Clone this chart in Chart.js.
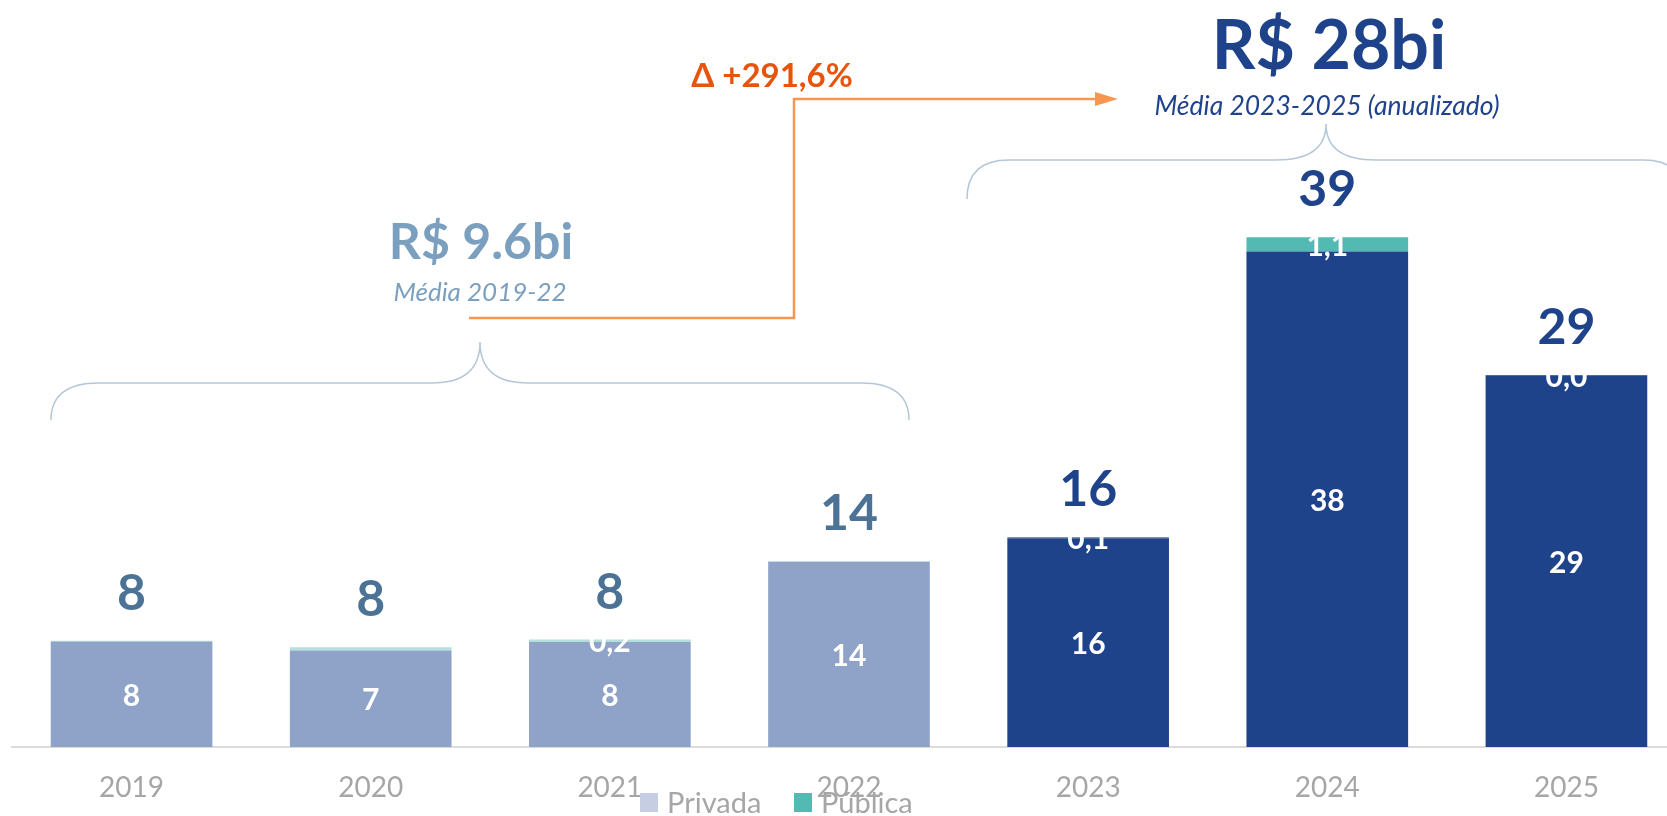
<!DOCTYPE html>
<html>
<head>
<meta charset="utf-8">
<script src="https://cdn.jsdelivr.net/npm/chart.js@4.4.1/dist/chart.umd.min.js"></script>
<style>
  html, body { margin: 0; padding: 0; background: #fff; overflow: hidden; }
  #wrap { position: absolute; left: 0; top: 0; width: 1700px; height: 816px; }
</style>
</head>
<body>
<div id="wrap"><canvas id="grafico" width="1700" height="816"></canvas></div>
<script>
// dados (R$ bi)
const anos = ['2019', '2020', '2021', '2022', '2023', '2024', '2025'];
const privada = [8.1, 7.4, 8.05, 14.2, 16.0, 38.0, 28.5];
const publica = [0.05, 0.25, 0.2, 0.05, 0.1, 1.1, 0.02];
const publicaRotulo = [false, false, true, false, true, true, true];
const totais = [8, 8, 8, 14, 16, 39, 29];

const corPrivada = ['#8fa2c7', '#8fa2c7', '#8fa2c7', '#8fa2c7', '#1f438b', '#1f438b', '#1f438b'];
const corPublica = ['#b3dfdc', '#b3dfdc', '#b3dfdc', '#b3dfdc', '#45b5ab', '#52bab2', '#52bab2'];
const corTotal = ['#4c7396', '#4c7396', '#4c7396', '#4c7396', '#1f438b', '#1f438b', '#1f438b'];
const corLegenda = ['#c5cee3', '#52bab2'];

const FONTE = 'Lato, "Open Sans", sans-serif';

// rótulos das barras e totais
const rotulos = {
    id: 'rotulos',
    afterDatasetsDraw(chart) {
        const ctx = chart.ctx;
        const mPriv = chart.getDatasetMeta(0);
        const mPub = chart.getDatasetMeta(1);
        ctx.save();
        ctx.textAlign = 'center';
        ctx.textBaseline = 'middle';
        ctx.fillStyle = '#fff';
        ctx.font = 'bold 30px ' + FONTE;
        mPriv.data.forEach((bar, i) => {
            const c = bar.getCenterPoint();
            ctx.fillText(String(Math.round(privada[i])), c.x, c.y + 2);
        });
        mPub.data.forEach((bar, i) => {
            if (!publicaRotulo[i]) return;
            const c = bar.getCenterPoint();
            ctx.fillText(publica[i].toFixed(1).replace('.', ','), c.x, c.y + 2);
        });
        ctx.font = 'bold 50px ' + FONTE;
        mPub.data.forEach((bar, i) => {
            ctx.fillStyle = corTotal[i];
            ctx.fillText(String(totais[i]), bar.x, bar.y - 47);
        });
        ctx.restore();
    }
};

function chave(ctx, x0, x1, yPonta, yLinha, yFim, rFim, rPonta) {
    const xm = (x0 + x1) / 2;
    ctx.beginPath();
    ctx.moveTo(x0, yFim);
    ctx.quadraticCurveTo(x0, yLinha, x0 + rFim, yLinha);
    ctx.lineTo(xm - rPonta, yLinha);
    ctx.quadraticCurveTo(xm, yLinha, xm, yPonta);
    ctx.quadraticCurveTo(xm, yLinha, xm + rPonta, yLinha);
    ctx.lineTo(x1 - rFim, yLinha);
    ctx.quadraticCurveTo(x1, yLinha, x1, yFim);
    ctx.stroke();
}

// chaves, médias, seta e legenda
const anotacoes = {
    id: 'anotacoes',
    afterDraw(chart) {
        const ctx = chart.ctx;
        ctx.save();
        ctx.strokeStyle = '#b4c7d9';
        ctx.lineWidth = 1.5;
        chave(ctx, 51, 909, 342, 383, 420, 48, 48);
        chave(ctx, 967, 1685, 124, 160, 199, 42, 50);

        ctx.textAlign = 'center';
        ctx.textBaseline = 'middle';
        ctx.fillStyle = '#7b9fbf';
        ctx.font = 'bold 50px ' + FONTE;
        ctx.fillText('R$ 9.6bi', 481, 243);
        ctx.font = 'italic 26px ' + FONTE;
        ctx.fillText('Média 2019-22', 480, 293);

        ctx.fillStyle = '#1f438b';
        ctx.font = 'bold 68px ' + FONTE;
        ctx.fillText('R$ 28bi', 1329, 47);
        ctx.font = 'italic 26.5px ' + FONTE;
        ctx.fillText('Média 2023-2025 (anualizado)', 1327, 106);

        // seta laranja
        ctx.strokeStyle = '#f8964f';
        ctx.fillStyle = '#f8964f';
        ctx.lineWidth = 2.5;
        ctx.beginPath();
        ctx.moveTo(469, 318);
        ctx.lineTo(794, 318);
        ctx.lineTo(794, 99);
        ctx.lineTo(1097, 99);
        ctx.stroke();
        ctx.beginPath();
        ctx.moveTo(1095, 92);
        ctx.lineTo(1118, 99);
        ctx.lineTo(1095, 106);
        ctx.closePath();
        ctx.fill();

        ctx.fillStyle = '#e8540e';
        ctx.font = 'bold 33px ' + FONTE;
        ctx.fillText('Δ +291,6%', 772, 76);

        // legenda
        ctx.textAlign = 'left';
        ctx.font = '29px ' + FONTE;
        let x = 640;
        chart.data.datasets.forEach((ds, i) => {
            ctx.fillStyle = corLegenda[i];
            ctx.fillRect(x, 793, 18, 19);
            ctx.fillStyle = '#a6a6a6';
            ctx.fillText(ds.label, x + 27, 804);
            x += 154;
        });
        ctx.restore();
    }
};

function criar() {
    new Chart(document.getElementById('grafico'), {
        type: 'bar',
        data: {
            labels: anos,
            datasets: [
                {
                    label: 'Privada',
                    data: privada,
                    backgroundColor: corPrivada,
                    borderWidth: 0,
                    categoryPercentage: 1,
                    barPercentage: 0.676
                },
                {
                    label: 'Pública',
                    data: publica,
                    backgroundColor: corPublica,
                    borderWidth: 0,
                    categoryPercentage: 1,
                    barPercentage: 0.676
                }
            ]
        },
        options: {
            responsive: false,
            devicePixelRatio: 1,
            animation: false,
            layout: { padding: { left: 12, right: 14, top: 95, bottom: 0 } },
            plugins: {
                legend: { display: false },
                tooltip: { enabled: false }
            },
            scales: {
                x: {
                    stacked: true,
                    grid: { display: false, drawTicks: false },
                    border: { color: '#dcdcdc', width: 2 },
                    ticks: {
                        color: '#a6a6a6',
                        font: { family: FONTE, size: 28 },
                        padding: 24,
                        maxRotation: 0
                    },
                    afterFit(s) { s.height = 69; }
                },
                y: { stacked: true, display: false, min: 0, max: 50 }
            }
        },
        plugins: [rotulos, anotacoes]
    });
}

Promise.all([
    document.fonts.load('28px Lato'),
    document.fonts.load('bold 28px Lato'),
    document.fonts.load('italic 25px Lato')
]).then(criar, criar);
</script>
</body>
</html>
